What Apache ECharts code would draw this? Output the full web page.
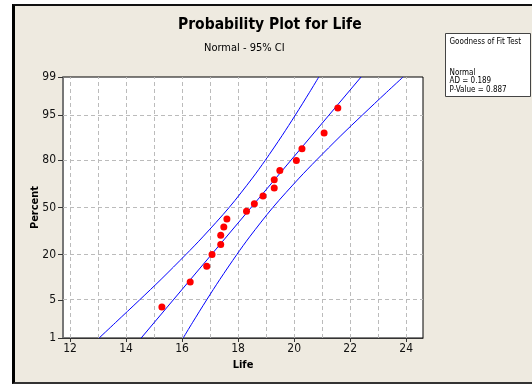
<!DOCTYPE html>
<html>
<head>
<meta charset="utf-8">
<script src="https://cdn.jsdelivr.net/npm/echarts@6/dist/echarts.min.js"></script>
<style>
  body { margin: 0; background: #fff; }
  #frame { position: absolute; left: 12px; top: 4px; width: 525px; height: 376px;
           border-left: 3px solid #000; border-top: 2px solid #111; border-bottom: 2px solid #333;
           background: #eeeae0; }
  #chart { position: absolute; left: 0; top: 0; width: 532px; height: 384px; }
</style>
</head>
<body>
<div id="frame"></div>
<div id="chart"></div>
<script>
  // observed data (Life) and plotted percents
  var lifeValues = [15.28, 16.29, 16.88, 17.07, 17.38, 17.38, 17.49, 17.60, 18.30,
                    18.58, 18.89, 19.29, 19.29, 19.49, 20.08, 20.28, 21.07, 21.56]
  var lifePercents = [3.8, 9.2, 14.7, 20.1, 25.5, 31.0, 36.4, 41.8, 47.3,
                      52.7, 58.2, 63.6, 69.0, 74.5, 79.9, 85.3, 90.8, 96.2]
  // fitted line
  var fitPercents = [1, 99]
  var fitLife = [14.54, 22.39]
  // 95% CI bands
  var ciPercents = [1, 2, 5, 10, 20, 30, 50, 70, 80, 90, 95, 98, 99]
  var ciLow = [13.04, 13.62, 14.49, 15.25, 16.13, 16.74, 17.68, 18.51, 18.97, 19.57, 20.04, 20.55, 20.88]
  var ciHigh = [16.04, 16.37, 16.88, 17.35, 17.95, 18.41, 19.24, 20.18, 20.79, 21.67, 22.43, 23.30, 23.89]
  // axis ticks
  var percentTicks = [1, 5, 20, 50, 80, 95, 99]
  var lifeTicks = [12, 14, 16, 18, 20, 22, 24]
  var lifeGrid = [12, 13, 14, 15, 16, 17, 18, 19, 20, 21, 22, 23, 24]

  var font = 'Tahoma, "DejaVu Sans Condensed", "DejaVu Sans", sans-serif'

  // inverse normal cdf (Acklam), percent -> z
  function invNorm(p) {
    var a = [-39.6968302866538, 220.946098424521, -275.928510446969, 138.357751867269, -30.6647980661472, 2.50662827745924]
    var b = [-54.4760987982241, 161.585836858041, -155.698979859887, 66.8013118877197, -13.2806815528857]
    var c = [-0.00778489400243029, -0.322396458041136, -2.40075827716184, -2.54973253934373, 4.37466414146497, 2.93816398269878]
    var d = [0.00778469570904146, 0.32246712907004, 2.445134137143, 3.75440866190742]
    var pl = 0.02425, q, r
    if (p < pl) {
      q = Math.sqrt(-2 * Math.log(p))
      return (((((c[0]*q+c[1])*q+c[2])*q+c[3])*q+c[4])*q+c[5]) / ((((d[0]*q+d[1])*q+d[2])*q+d[3])*q+1)
    }
    if (p > 1 - pl) {
      q = Math.sqrt(-2 * Math.log(1 - p))
      return -(((((c[0]*q+c[1])*q+c[2])*q+c[3])*q+c[4])*q+c[5]) / ((((d[0]*q+d[1])*q+d[2])*q+d[3])*q+1)
    }
    q = p - 0.5; r = q * q
    return (((((a[0]*r+a[1])*r+a[2])*r+a[3])*r+a[4])*r+a[5])*q / (((((b[0]*r+b[1])*r+b[2])*r+b[3])*r+b[4])*r+1)
  }
  function z(pct) { return invNorm(pct / 100) }

  var zTicks = percentTicks.map(z)
  var zMin = z(1), zMax = z(99)

  function pairs(xs, ps) {
    return xs.map(function (x, i) { return [x, z(ps[i])] })
  }

  var gridLines = []
  lifeGrid.forEach(function (v) { gridLines.push({ xAxis: v }) })
  zTicks.slice(1, -1).forEach(function (v) { gridLines.push({ yAxis: v }) })

  var chart = echarts.init(document.getElementById('chart'))
  var option = {
    backgroundColor: 'transparent',
    animation: false,
    title: [
      { text: 'Probability Plot for Life', left: 173, top: 12,
        textStyle: { fontFamily: font, fontSize: 15.5, fontWeight: 'bold', color: '#000' } },
      { text: 'Normal - 95% CI', left: 199, top: 38,
        textStyle: { fontFamily: font, fontSize: 11, fontWeight: 'normal', color: '#000' } }
    ],
    grid: { left: 63, top: 77, right: 109, bottom: 46, show: true,
            backgroundColor: '#fff', borderColor: '#000', borderWidth: 1 },
    xAxis: {
      type: 'value', min: 11.75, max: 24.6,
      name: 'Life', nameLocation: 'middle', nameGap: 22, nameMoveOverlap: false,
      nameTextStyle: { fontFamily: font, fontSize: 11, fontWeight: 'bold', color: '#000' },
      axisLine: { onZero: false, lineStyle: { color: '#333', width: 1 } },
      axisTick: { customValues: lifeTicks, length: 4, lineStyle: { color: '#333' } },
      axisLabel: { customValues: lifeTicks, margin: 5, fontFamily: font, fontSize: 12, color: '#111' },
      splitLine: { show: false }
    },
    yAxis: {
      type: 'value', min: zMin, max: zMax,
      name: 'Percent', nameLocation: 'middle', nameGap: 22, nameMoveOverlap: false,
      nameTextStyle: { fontFamily: font, fontSize: 11, fontWeight: 'bold', color: '#000' },
      axisLine: { onZero: false, lineStyle: { color: '#777', width: 2 } },
      axisTick: { customValues: zTicks, length: 5, lineStyle: { color: '#333' } },
      axisLabel: {
        customValues: zTicks, margin: 7, fontFamily: font, fontSize: 12, color: '#111',
        formatter: function (v) {
          var best = 0
          zTicks.forEach(function (t, i) { if (Math.abs(t - v) < Math.abs(zTicks[best] - v)) best = i })
          return String(percentTicks[best])
        }
      },
      splitLine: { show: false }
    },
    graphic: [
      { type: 'group', left: 445, top: 33, children: [
        { type: 'rect', shape: { x: 0, y: 0, width: 85, height: 63 },
          style: { fill: '#fff', stroke: '#444', lineWidth: 1 } },
        { type: 'text', x: 4, y: 4, style: { text: 'Goodness of Fit Test', font: '8px ' + font, fill: '#000' } },
        { type: 'text', x: 4, y: 35, style: { text: 'Normal\nAD = 0.189\nP-Value = 0.887',
          font: '8px ' + font, fill: '#000', lineHeight: 8.5 } }
      ] }
    ],
    series: [
      { type: 'line', data: [], z: 1, silent: true,
        markLine: { silent: true, symbol: 'none', label: { show: false },
          lineStyle: { color: '#bbb', type: [4, 3], width: 1 }, data: gridLines } },
      { type: 'line', data: pairs(ciLow, ciPercents), smooth: 0.3, symbol: 'none', zlevel: 1, z: 2,
        lineStyle: { color: '#0000ff', width: 1 } },
      { type: 'line', data: pairs(ciHigh, ciPercents), smooth: 0.3, symbol: 'none', zlevel: 1, z: 2,
        lineStyle: { color: '#0000ff', width: 1 } },
      { type: 'line', data: pairs(fitLife, fitPercents), symbol: 'none', zlevel: 1, z: 2,
        lineStyle: { color: '#0000ff', width: 1 } },
      { type: 'scatter', data: pairs(lifeValues, lifePercents), symbolSize: 7, zlevel: 1, z: 3,
        itemStyle: { color: '#ff0000', opacity: 1 } }
    ]
  }
  chart.setOption(option)
</script>
</body>
</html>
